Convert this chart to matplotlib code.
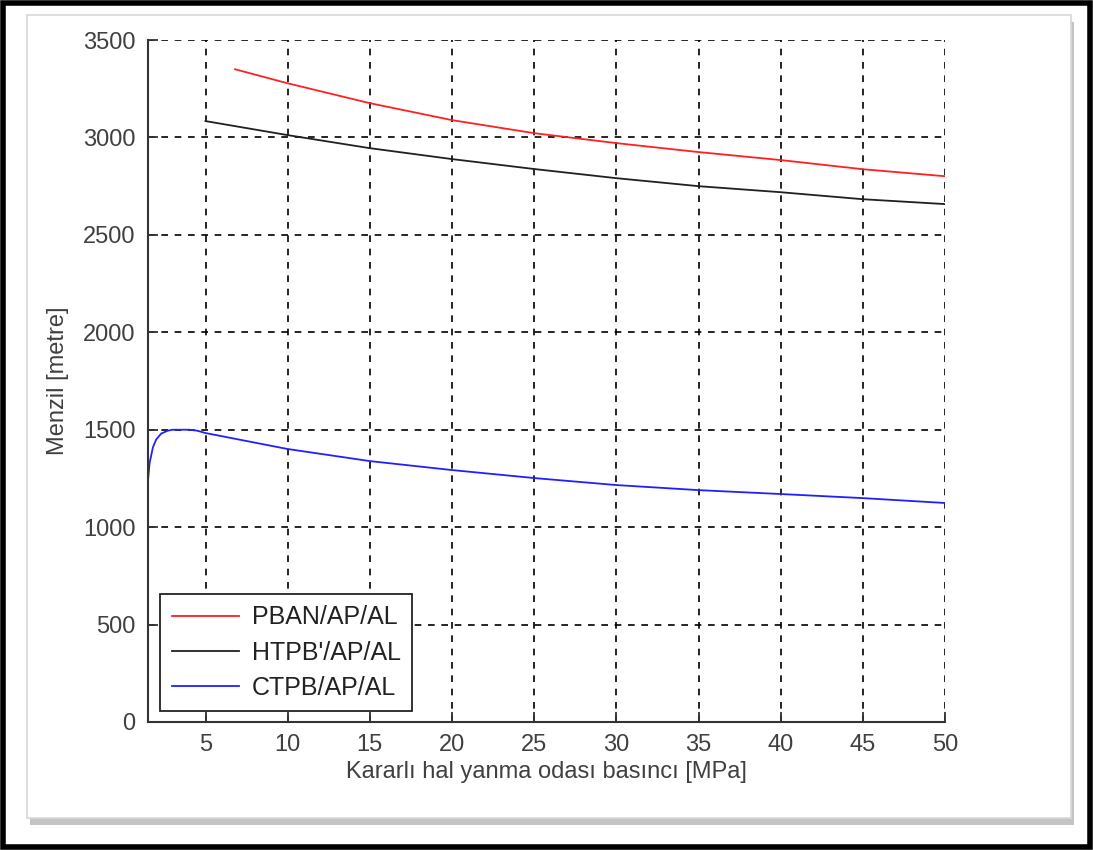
import matplotlib
matplotlib.use("Agg")
import matplotlib.pyplot as plt
from matplotlib.patches import Rectangle

plt.rcParams['font.family'] = ['Liberation Sans', 'DejaVu Sans']

# basinc [MPa] ve menzil [m] degerleri
p_pban = [6.8, 10, 15, 20, 25, 30, 35, 40, 45, 50]
r_pban = [3350, 3278, 3176, 3089, 3022, 2971, 2925, 2884, 2837, 2801]

p_htpb = [5, 10, 15, 20, 25, 30, 35, 40, 45, 50]
r_htpb = [3084, 3012, 2945, 2889, 2838, 2791, 2750, 2719, 2683, 2658]

p_ctpb = [1.5, 1.6, 1.8, 2.0, 2.3, 2.7, 3, 4, 4.5, 5, 10, 15, 20, 25, 30, 35, 40, 45, 50]
r_ctpb = [1240, 1330, 1410, 1450, 1480, 1495, 1500, 1500, 1495, 1483, 1401, 1339, 1293,
          1252, 1216, 1190, 1170, 1149, 1124]

labels = ["PBAN/AP/AL", "HTPB'/AP/AL", "CTPB/AP/AL"]
xticks = [5, 10, 15, 20, 25, 30, 35, 40, 45, 50]
yticks = [0, 500, 1000, 1500, 2000, 2500, 3000, 3500]

fig = plt.figure(figsize=(10.93, 8.5), dpi=100)

# cerceve + golgeli beyaz panel
fig.patches.append(Rectangle((0.003, 0.004), 0.994, 0.992, transform=fig.transFigure,
                             fill=False, ec='black', lw=4, zorder=-5))
fig.patches.append(Rectangle((0.0275, 0.0295), 0.955, 0.945, transform=fig.transFigure,
                             fc='#c4c4c4', ec='none', zorder=-5))
fig.patches.append(Rectangle((0.0247, 0.0376), 0.955, 0.945, transform=fig.transFigure,
                             fc='white', ec='#d8d8d8', lw=1.2, zorder=-4))

ax = fig.add_axes([0.1354, 0.1506, 0.7292, 0.8023])
ax.set_zorder(2)
ax.patch.set_alpha(0)

ax.plot(p_pban, r_pban, color='#ff2020', lw=1.3, label=labels[0])
ax.plot(p_htpb, r_htpb, color='#202020', lw=1.3, label=labels[1])
ax.plot(p_ctpb, r_ctpb, color='#2020ff', lw=1.3, label=labels[2])

ax.set_xlim(1.5, 50)
ax.set_ylim(0, 3500)
ax.set_xticks(xticks)
ax.set_yticks(yticks)
ax.grid(True, color='black', linestyle=(0, (4, 4)), lw=1.2)
ax.spines['top'].set_visible(False)
ax.spines['right'].set_visible(False)
for s in ('left', 'bottom'):
    ax.spines[s].set_color('#333333')
    ax.spines[s].set_linewidth(1.5)
ax.tick_params(direction='in', length=7, width=1.3, colors='#333333',
               labelsize=17, pad=9)
for t in ax.get_xticklabels() + ax.get_yticklabels():
    t.set_color('#404040')

ax.set_xlabel("Kararlı hal yanma odası basıncı [MPa]", fontsize=17, color='#404040', labelpad=3)
ax.set_ylabel("Menzil [metre]", fontsize=17, color='#404040', labelpad=10)

leg = ax.legend(loc='lower left', bbox_to_anchor=(0.006, 0.005), fontsize=18,
                frameon=True, fancybox=False, handlelength=2.7, labelspacing=0.45,
                borderpad=0.45, handletextpad=0.5, borderaxespad=0.3)
leg.get_frame().set_edgecolor('#222222')
leg.get_frame().set_linewidth(1.3)
leg.get_frame().set_alpha(1)
for t in leg.get_texts():
    t.set_color('#222222')

fig.savefig("out.png", dpi=100)
